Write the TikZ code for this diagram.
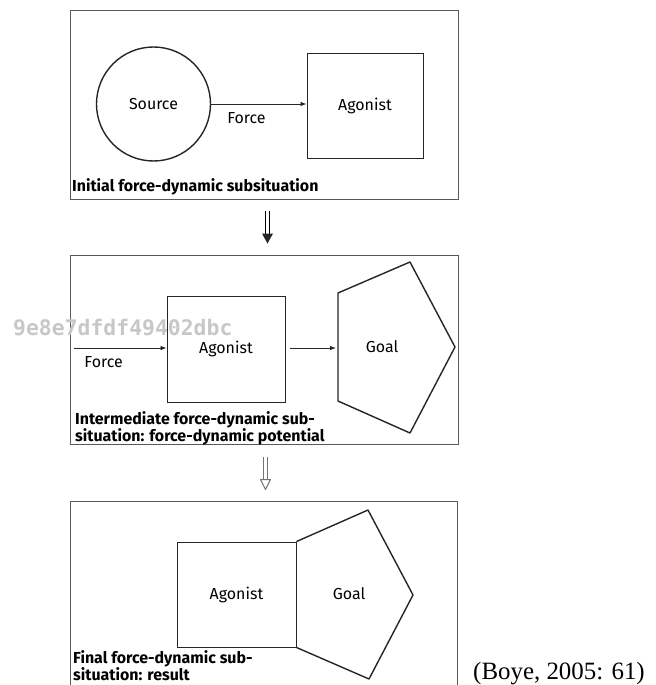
\documentclass[tikz,border=0pt]{standalone}
\usepackage{fontspec}
\setmainfont{Fira Sans}
\newfontfamily\citefont{Liberation Serif}
\newfontfamily\markfont{DejaVu Sans Mono}
\usetikzlibrary{arrows.meta,calc}
\begin{document}
\begin{tikzpicture}[x=1bp,y=-1bp,
  panel/.style={draw=black!65, line width=0.9bp, inner sep=0},
  agbox/.style={draw=black!85, line width=0.9bp, inner sep=0,
    font=\fontsize{16}{18}\selectfont},
  shapeline/.style={draw=black!85, line width=1.4bp, line join=round},
  lbl/.style={font=\fontsize{16}{18}\selectfont, inner sep=0},
  caption/.style={font=\bfseries\fontsize{16}{17}\selectfont,
    align=left, inner sep=0},
  flow/.style={-{Latex[length=6bp,width=4.5bp]}, line width=0.8bp, draw=black!85},
  shaft/.style={double=white, double distance=2.6bp, line width=1.3bp},
]
\clip (0,0) rectangle (656,685);

% ---- panel 1: initial sub-situation
\node[panel, minimum width=388bp, minimum height=189bp] (p1) at (264,104.5) {};
\node[circle, shapeline, minimum size=114bp, inner sep=0, lbl] (src) at (153.5,104) {Source};
\node[agbox, minimum width=116bp, minimum height=105bp] (ag1) at (365,105.5) {Agonist};
\draw[flow] (src.east) -- node[lbl, below=8bp, pos=0.37] (f1) {Force} (src.east -| ag1.west);
\node[caption, anchor=base west] (c1) at (72,191) {Initial force-dynamic subsituation};

% ---- panel 2: intermediate sub-situation
\node[panel, minimum width=388bp, minimum height=189bp] (p2) at (264,349.5) {};
\node[agbox, minimum width=118bp, minimum height=106bp] (ag2) at (226,349) {Agonist};
\coordinate (in2) at (74,348);
\draw[flow] (in2) -- node[lbl, below=8bp, pos=0.32] (f2) {Force} (in2 -| ag2.west);
\draw[shapeline] (338,293) -- (410,262) -- (455,347) -- (410,433) -- (338,401) -- cycle;
\node[lbl] (goal2) at (382,347) {Goal};
\coordinate (g2w) at (336,348);
\draw[flow, shorten <=5bp] (ag2.east |- g2w) -- (g2w);
\node[caption, anchor=north west] (c2) at (75,411)
  {Intermediate force-dynamic sub-\\situation: force-dynamic potential};

% ---- panel 3: final sub-situation
\node[panel, minimum width=387bp, minimum height=200bp] (p3) at (263.5,601) {};
\node[agbox, minimum width=119bp, minimum height=105bp] (ag3) at (236.5,594.5) {Agonist};
\draw[shapeline] (ag3.north east) -- (368,510) -- (413,595) -- (369,679) -- (ag3.south east);
\node[lbl] (goal3) at (349,594) {Goal};
\node[caption, anchor=north west] (c3) at (73,650.5)
  {Final force-dynamic sub-\\situation: result};

% ---- transitions between panels
\coordinate (t1) at ($(p1.south)+(3.5,12)$);
\coordinate (h1) at ($(p2.north)+(3.5,-11)$);
\draw[shaft, shorten >=9bp] (t1) -- (h1);
\fill[black!85] ($(h1)+(-5.5,-10)$) -- ($(h1)+(5.5,-10)$) -- (h1) -- cycle;

\coordinate (t2) at ($(p2.south)+(1.5,13)$);
\coordinate (h2) at ($(p3.north)+(2,-11)$);
\draw[shaft, draw=black!55, shorten >=10bp] (t2) -- (h2);
\draw[black!55, line width=1bp, fill=white, line join=round]
  ($(h2)+(-5,-10)$) -- ($(h2)+(5,-10)$) -- (h2) -- cycle;

% ---- reference
\node[font=\citefont\fontsize{25}{28}\selectfont, anchor=base west, inner sep=0]
  (ref) at (473,679) {(Boye, 2005: 61)};

% ---- stamp
\node[font=\markfont\bfseries\fontsize{21.5}{24}\selectfont, text=black!22,
  anchor=base west, inner sep=0] (stamp) at (13,335) {9e8e7dfdf49402dbc};
\end{tikzpicture}
\end{document}
